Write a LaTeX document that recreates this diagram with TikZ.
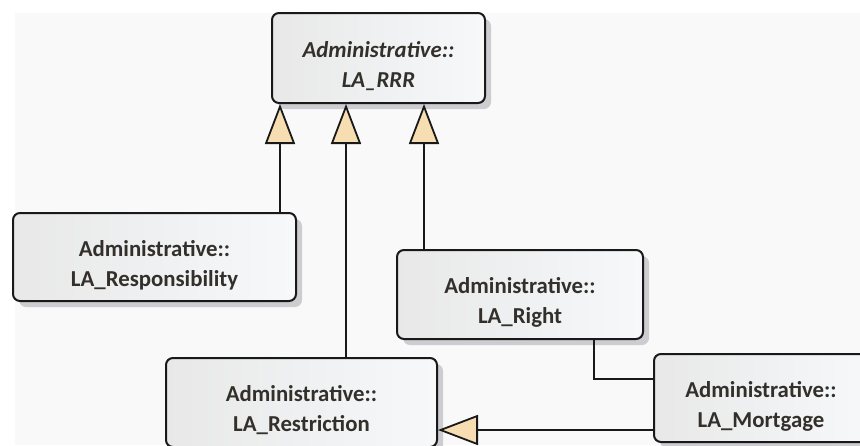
\documentclass[tikz,border=0pt]{standalone}
\usepackage{fontspec}
\setmainfont{Carlito}
\usetikzlibrary{arrows.meta}
\usetikzlibrary{shadows}
\usetikzlibrary{calc}
\definecolor{cbg}{rgb}{0.976, 0.976, 0.976}
\definecolor{cboxl}{rgb}{0.91, 0.91, 0.91}
\definecolor{cboxr}{rgb}{0.965, 0.973, 0.98}
\definecolor{cshadow}{rgb}{0.80, 0.80, 0.82}
\definecolor{ctext}{rgb}{0.2, 0.19, 0.17}
\definecolor{ctri}{rgb}{0.97, 0.87, 0.70}
\newcommand{\clsfont}{\bfseries\fontsize{22.8}{30}\selectfont}
\newcommand{\clsname}[2]{\raisebox{-8pt}[\height][\depth]{\begin{tabular}{@{}c@{}}#1\\#2\end{tabular}}}

\begin{document}
\begin{tikzpicture}[x=1pt, y=-1pt,
  umlclass/.style={draw=black!90, line width=2pt, rounded corners=7pt,
    left color=cboxl, right color=cboxr,
    drop shadow={shadow xshift=6pt, shadow yshift=-6pt, fill=cshadow, opacity=1},
    text=ctext, font=\clsfont, inner sep=0pt},
  gen/.style={draw=black!90, line width=1.8pt,
    -{Triangle[width=30pt, length=40pt, fill=ctri]}},
  assoc/.style={draw=black!90, line width=1.8pt}]

  \useasboundingbox (0, 0) rectangle (860, 445);
  \clip (0, 0) rectangle (860, 445);
  \fill [white] (0, 0) rectangle (860, 445);
  \fill [cbg] (15, 13) rectangle (860, 445);

  % classes
  \node [umlclass, minimum width=213pt, minimum height=90pt, font=\clsfont\itshape] (rrr) at (378.5, 58) {\clsname{Administrative::}{LA\_RRR}};
  \node [umlclass, minimum width=283pt, minimum height=88pt] (resp) at (154.5, 257) {\clsname{Administrative::}{LA\_Responsibility}};
  \node [umlclass, minimum width=246pt, minimum height=89pt] (right) at (520, 294.5) {\clsname{Administrative::}{LA\_Right}};
  \node [umlclass, minimum width=271pt, minimum height=89pt] (restr) at (301.5, 402.5) {\clsname{Administrative::}{LA\_Restriction}};
  \node [umlclass, minimum width=214pt, minimum height=88pt] (mort) at (761, 398) {\clsname{Administrative::}{LA\_Mortgage}};

  % generalisations to LA_RRR
  \coordinate (g1) at ($(rrr.south west)+(9, 0)$);
  \coordinate (g2) at ($(rrr.south west)+(75, 0)$);
  \coordinate (g3) at ($(rrr.south west)+(153, 0)$);
  \draw [gen] (resp.north -| g1) -- (g1);
  \draw [gen] (restr.north -| g2) -- (g2);
  \draw [gen] (right.north -| g3) -- (g3);

  % right to mortgage
  \coordinate (r1) at ($(right.south west)+(198, 0)$);
  \coordinate (m0) at ($(mort.north west)+(0, 26)$);
  \draw [assoc] (r1) |- (m0);

  % mortgage to restriction
  \coordinate (m1) at ($(mort.south west)+(0, -13)$);
  \draw [gen] (m1) -- (m1 -| restr.east);

\end{tikzpicture}
\end{document}
